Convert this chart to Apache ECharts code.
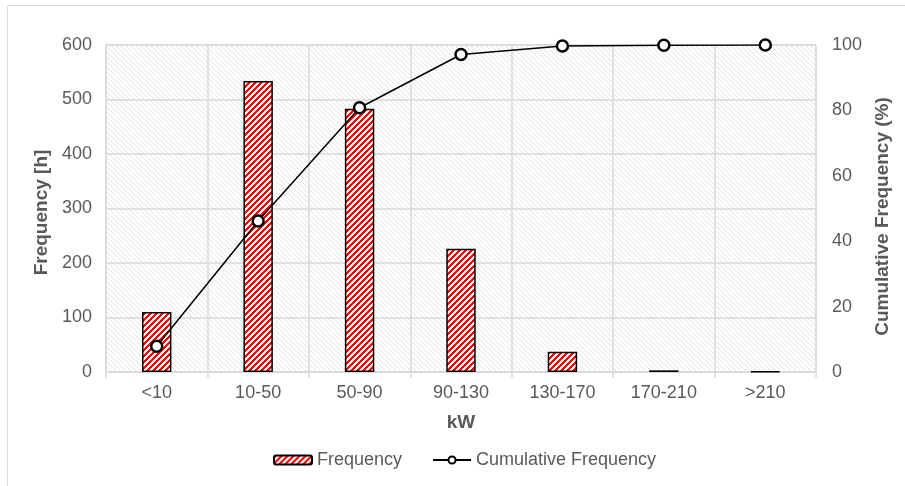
<!DOCTYPE html>
<html>
<head>
<meta charset="utf-8">
<script src="https://cdn.jsdelivr.net/npm/echarts@6/dist/echarts.min.js"></script>
<style>
  html, body { margin: 0; padding: 0; background: #fff; }
  #chart { width: 905px; height: 486px; }
</style>
</head>
<body>
<div id="chart"></div>
<script>
// Power bins (kW)
const categories = ['<10', '10-50', '50-90', '90-130', '130-170', '170-210', '>210'];
// Hours spent in each bin
const frequency = [110, 534, 483, 226, 37, 3, 1];
// Running total as a percentage
const cumulative = [7.9, 46.2, 80.8, 97.1, 99.7, 99.9, 100];
const leftTicks = [0, 100, 200, 300, 400, 500, 600];
const rightTicks = [0, 20, 40, 60, 80, 100];

// Tile for the red/white diagonal hatch on the bars
function barHatch() {
  const c = document.createElement('canvas');
  c.width = 6; c.height = 6;
  const g = c.getContext('2d');
  const img = g.createImageData(6, 6);
  for (let y = 0; y < 6; y++) {
    for (let x = 0; x < 6; x++) {
      const i = (y * 6 + x) * 4;
      const red = ((x + y) % 6) < 3;
      img.data[i] = 255;
      img.data[i + 1] = red ? 0 : 255;
      img.data[i + 2] = red ? 0 : 255;
      img.data[i + 3] = 255;
    }
  }
  g.putImageData(img, 0, 0);
  return c;
}

// Tile for the light grey hatch behind the plot
function plotHatch() {
  const c = document.createElement('canvas');
  c.width = 5; c.height = 5;
  const g = c.getContext('2d');
  const img = g.createImageData(5, 5);
  for (let y = 0; y < 5; y++) {
    for (let x = 0; x < 5; x++) {
      const i = (y * 5 + x) * 4;
      const d = (((x - y) % 5) + 5) % 5;
      const v = d === 0 ? 226 : 255;
      img.data[i] = v; img.data[i + 1] = v; img.data[i + 2] = v; img.data[i + 3] = 255;
    }
  }
  g.putImageData(img, 0, 0);
  return c;
}

const textColor = '#595959';
const gridColor = '#d9d9d9';
const font = 'Liberation Sans, Arial, sans-serif';

const chart = echarts.init(document.getElementById('chart'), null, { renderer: 'canvas' });
chart.setOption({
  animation: false,
  backgroundColor: '#fff',
  textStyle: { fontFamily: font },
  graphic: [{
    type: 'rect',
    shape: { x: 7.5, y: 5.5, width: 920, height: 500 },
    style: { fill: 'none', stroke: '#d9d9d9', lineWidth: 1 },
    silent: true
  }],
  grid: {
    left: 106, right: 89, top: 45, bottom: 114,
    show: true,
    backgroundColor: { image: plotHatch(), repeat: 'repeat' },
    borderColor: gridColor, borderWidth: 1
  },
  legend: {
    bottom: 12,
    left: 268,
    itemGap: 30,
    itemWidth: 38,
    itemHeight: 9,
    textStyle: { color: textColor, fontSize: 18, fontFamily: font },
    data: ['Frequency', 'Cumulative Frequency']
  },
  xAxis: {
    type: 'category',
    data: categories,
    name: 'kW',
    nameLocation: 'middle',
    nameGap: 41,
    nameTextStyle: { color: textColor, fontSize: 19, fontWeight: 'bold', fontFamily: font },
    axisLine: { lineStyle: { color: gridColor, width: 1.5 } },
    axisTick: { show: true, length: 6, lineStyle: { color: gridColor, width: 1.5 } },
    axisLabel: { color: textColor, fontSize: 18, margin: 12, fontFamily: font },
    splitLine: { show: true, lineStyle: { color: gridColor, width: 1.5 } }
  },
  yAxis: [{
    type: 'value',
    min: leftTicks[0], max: leftTicks[leftTicks.length - 1], interval: 100,
    name: 'Frequency [h]',
    nameLocation: 'middle',
    nameGap: 55,
    nameTextStyle: { color: textColor, fontSize: 19, fontWeight: 'bold', fontFamily: font, padding: [0, 8, 0, 0] },
    axisLine: { show: false },
    axisTick: { show: false },
    axisLabel: { color: textColor, fontSize: 18, margin: 14, fontFamily: font },
    splitLine: { show: true, lineStyle: { color: gridColor, width: 1.5 } }
  }, {
    type: 'value',
    position: 'right',
    min: rightTicks[0], max: rightTicks[rightTicks.length - 1], interval: 20,
    name: 'Cumulative Frequency (%)',
    nameLocation: 'middle',
    nameGap: 55,
    nameTextStyle: { color: textColor, fontSize: 19, fontWeight: 'bold', fontFamily: font, padding: [0, 16, 0, 0] },
    axisLine: { show: false },
    axisTick: { show: false },
    axisLabel: { color: textColor, fontSize: 18, margin: 16, fontFamily: font },
    splitLine: { show: false }
  }],
  series: [{
    name: 'Frequency',
    type: 'bar',
    yAxisIndex: 0,
    data: frequency,
    barWidth: '29%',
    itemStyle: {
      color: { image: barHatch(), repeat: 'repeat' },
      borderColor: '#000',
      borderWidth: 1.5
    }
  }, {
    name: 'Cumulative Frequency',
    type: 'line',
    yAxisIndex: 1,
    data: cumulative,
    symbol: 'circle',
    symbolSize: 11,
    lineStyle: { color: '#000', width: 1.5 },
    itemStyle: { color: '#fff', borderColor: '#000', borderWidth: 2.5 }
  }]
});
</script>
</body>
</html>
